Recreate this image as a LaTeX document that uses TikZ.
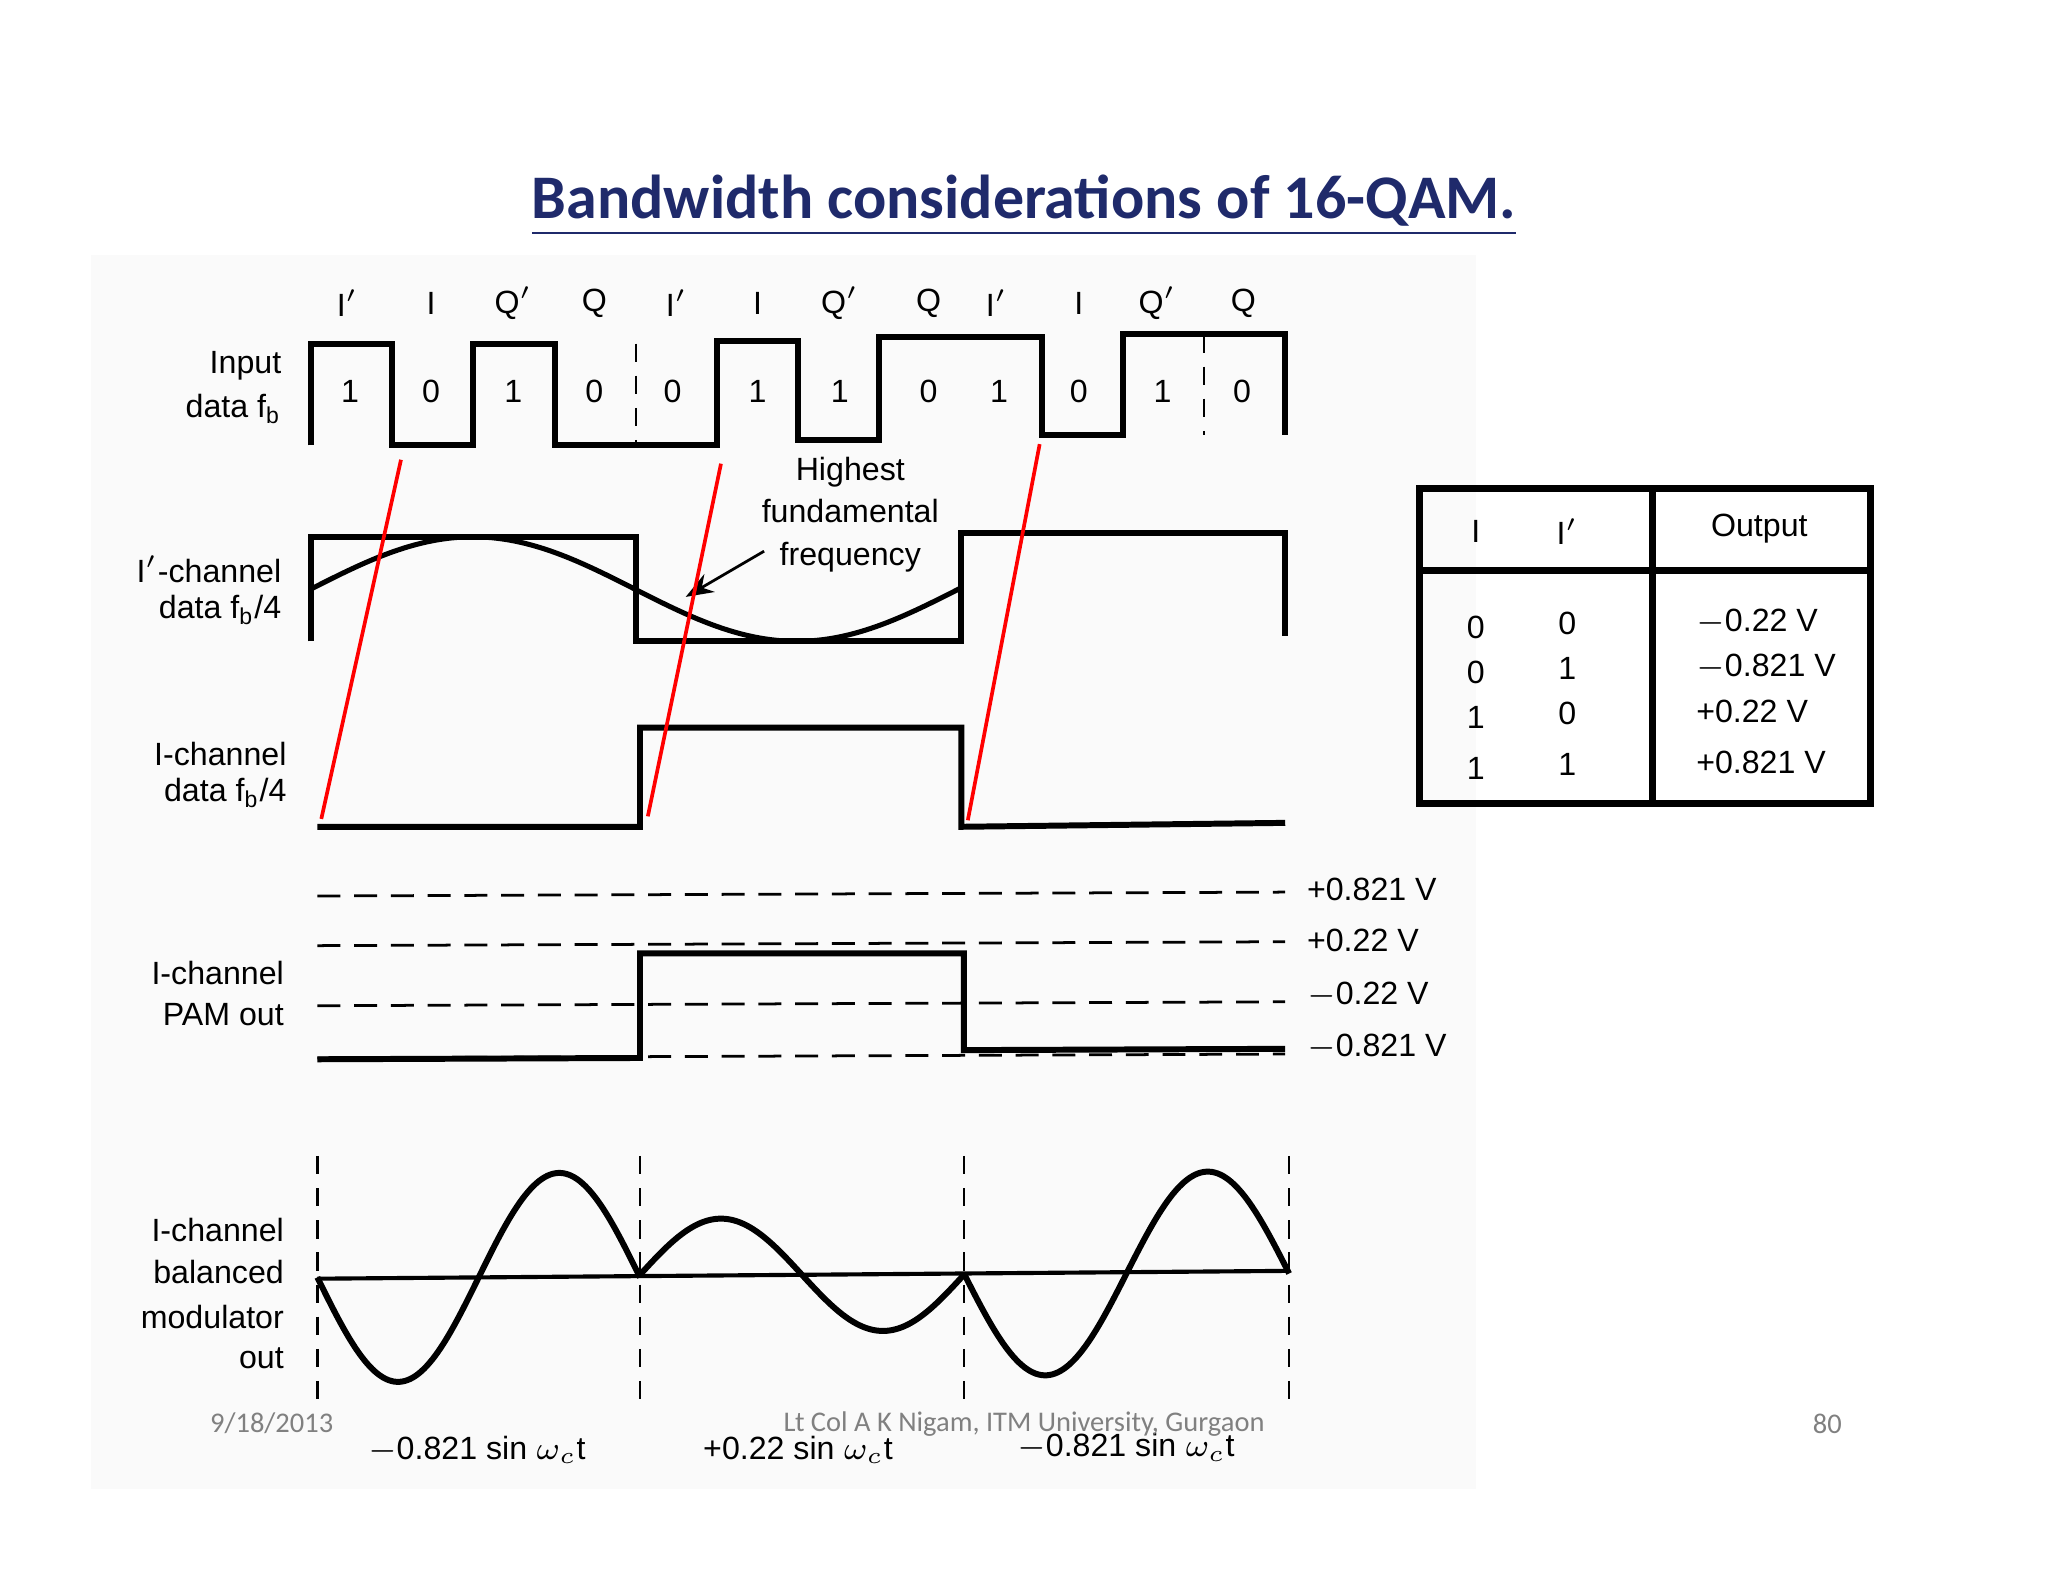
\documentclass[tikz,border=0pt]{standalone}
\usepackage{fontspec}
\setmainfont{Liberation Sans}
\newfontfamily\carlitofont{Carlito}
\usetikzlibrary{arrows.meta}
\definecolor{titleblue}{HTML}{1F2A6B}
\tikzset{
 wave/.style={line width=1.3pt,line join=miter},
 dline/.style={dashed,line width=0.6pt,dash pattern=on 5pt off 3pt},
 vdash/.style={dashed,line width=0.5pt,dash pattern=on 4pt off 3pt},
 redl/.style={red,line width=0.8pt},
 lbl/.style={font=\fontsize{7}{8}\selectfont,inner sep=0pt},
 rlbl/.style={lbl,anchor=east},
 foot/.style={font=\carlitofont\fontsize{6.2}{7}\selectfont,text=gray,inner sep=0pt}
}
\begin{document}
\begin{tikzpicture}[x=0.01cm,y=-0.01cm]
\useasboundingbox (0,0) rectangle (1568,1211);
\fill[black!2] (70,195) rectangle (1130,1140);
\node[font=\carlitofont\bfseries\fontsize{13.5}{15}\selectfont,text=titleblue,inner sep=0pt] (title) at (784,157) {\underline{Bandwidth considerations of 16-QAM.}};
% header bit names
\foreach \x/\t in {266/I$'$,330/I,393/Q$'$,455/Q,518/I$'$,580/I,643/Q$'$,711/Q,763/I$'$,826/I,886/Q$'$,952/Q}
  \node[lbl] at (\x,232) {\t};
% bits
\foreach \x/\t in {268/1,330/0,393/1,455/0,515/0,580/1,643/1,711/0,765/1,826/0,890/1,951/0}
  \node[lbl] at (\x,300) {\t};
\node[rlbl] (in1) at (216,280) {Input};
\node[rlbl] (in2) at (216,313) {data f$_\mathrm{b}$};
\draw[wave] (238,341) -- (238,263) -- (300,263) -- (300,341) -- (362,341) -- (362,263) -- (425,263) -- (425,341) -- (549,341) -- (549,261) -- (611,261) -- (611,337) -- (673,337) -- (673,258) -- (798,258) -- (798,333) -- (860,333) -- (860,256) -- (984,256) -- (984,333);
\draw[vdash] (487,263) -- (487,341);
\draw[vdash] (922,256) -- (922,333);
% I' channel
\node[rlbl] at (216,436) {I$'$-channel};
\node[rlbl] at (216,467) {data f$_\mathrm{b}$/4};
\draw[wave] (238,491) -- (238,411) -- (487,411) -- (487,491) -- (736,491) -- (736,408) -- (984,408) -- (984,487);
\draw[line width=1.1pt,domain=238:736,samples=80,smooth] plot (\x,{451-40*sin(0.72581*(\x-238))});
\node[lbl,align=center,font=\fontsize{7}{9.2}\selectfont] (hf) at (651,394) {Highest\\fundamental\\frequency};
\coordinate (hfa) at (585,422);
\coordinate (hfb) at (525,457);
\draw[-{Stealth[length=6pt]},line width=0.6pt] (hfa) -- (hfb);
% I channel
\node[rlbl] at (220,577) {I-channel};
\node[rlbl] at (220,607) {data f$_\mathrm{b}$/4};
\draw[wave] (243,633) -- (490,633) -- (490,557) -- (736,557) -- (736,633) -- (984,630);
% red lines
\draw[redl] (307,352) -- (246,627);
\draw[redl] (552,355) -- (496,625);
\draw[redl] (796,340) -- (741,628);
% PAM
\foreach \y in {686,724,770,810} \draw[dline] (243,\y) -- (984,\y-3);
\node[lbl,anchor=west] at (1000,681) {+0.821 V};
\node[lbl,anchor=west] at (1000,720) {+0.22 V};
\node[lbl,anchor=west] at (1000,762) {$-$0.22 V};
\node[lbl,anchor=west] at (1000,802) {$-$0.821 V};
\node[rlbl] at (218,745) {I-channel};
\node[rlbl] at (218,777) {PAM out};
\draw[wave] (243,811) -- (490,810) -- (490,730) -- (738,730) -- (738,804) -- (984,803);
% balanced modulator
\node[rlbl] at (218,942) {I-channel};
\node[rlbl] at (218,974) {balanced};
\node[rlbl] at (218,1008) {modulator};
\node[rlbl] at (218,1040) {out};
\foreach \x in {243,490,738,987} \draw[vdash] (\x,885) -- (\x,1080);
\draw[line width=0.9pt] (243,979) -- (987,973);
\draw[wave,domain=243:490,samples=60,smooth] plot (\x,{978+80*sin(1.45749*(\x-243))});
\draw[wave,domain=490:738,samples=60,smooth] plot (\x,{976-43*sin(1.45161*(\x-490))});
\draw[wave,domain=738:987,samples=60,smooth] plot (\x,{975+78*sin(1.44578*(\x-738))});
\node[lbl] at (365,1110) {$-$0.821 sin $\omega_c$t};
\node[lbl] at (611,1110) {+0.22 sin $\omega_c$t};
\node[lbl] at (862,1108) {$-$0.821 sin $\omega_c$t};
% table
\draw[line width=1.5pt] (1087,374) rectangle (1432,615);
\draw[line width=1.5pt] (1087,437) -- (1432,437);
\draw[line width=1.5pt] (1265,374) -- (1265,615);
\node[lbl] at (1130,407) {I};
\node[lbl] at (1200,407) {I$'$};
\node[lbl] at (1347,405) {Output};
\foreach \y/\a/\b/\o in {480/0/0/{$-$0.22 V},515/0/1/{$-$0.821 V},549/1/0/{+0.22 V},588/1/1/{+0.821 V}}{
  \node[lbl] at (1130,\y) {\a};
  \node[lbl] at (1200,\y-3) {\b};
  \node[lbl,anchor=west] at (1298,\y-4) {\o};
}
% footer
\node[foot] at (208,1090) {9/18/2013};
\node[foot] at (784,1090) {Lt Col A K Nigam, ITM University, Gurgaon};
\node[foot] at (1399,1090) {80};
\end{tikzpicture}
\end{document}
